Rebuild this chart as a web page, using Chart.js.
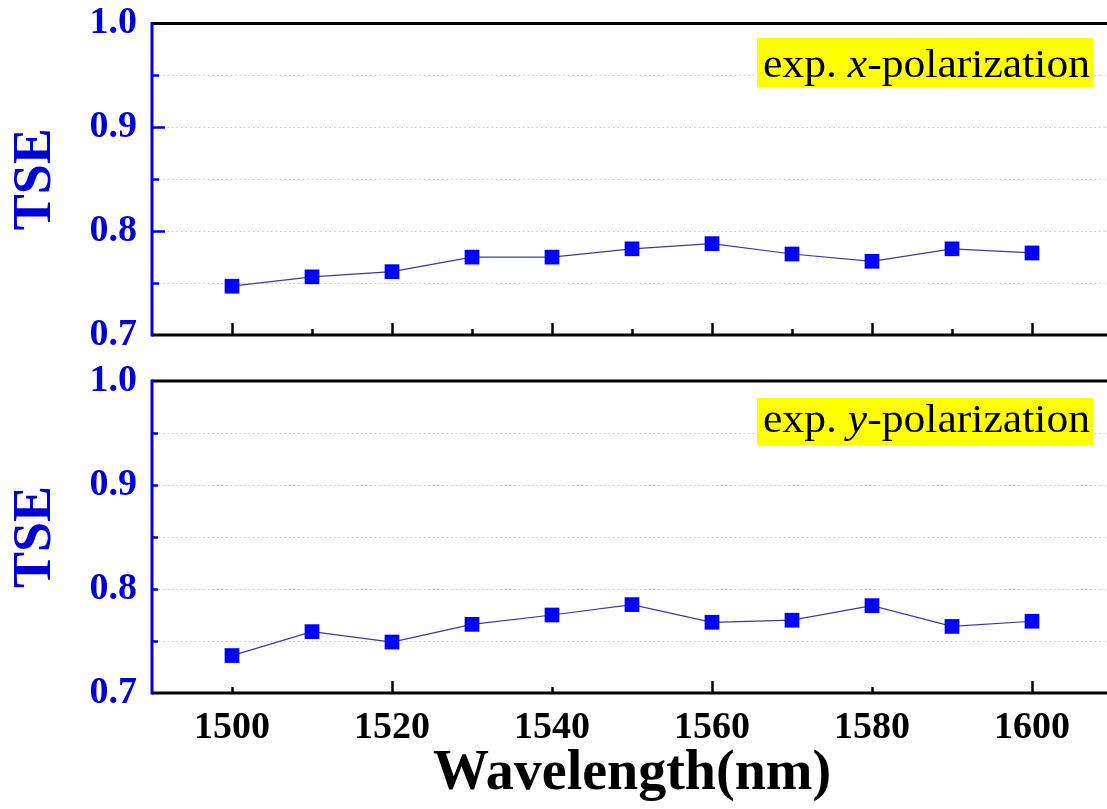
<!DOCTYPE html>
<html>
<head>
<meta charset="utf-8">
<script src="https://cdn.jsdelivr.net/npm/chart.js@4/dist/chart.umd.min.js"></script>
<style>
  html, body { margin: 0; padding: 0; background: #ffffff; }
  body { width: 1107px; height: 809px; overflow: hidden; position: relative; }
  canvas { position: absolute; left: 0; }
  #c1 { top: -20px; }
  #c2 { top: 340px; }
</style>
</head>
<body>
<canvas id="c1" width="1112" height="400"></canvas>
<canvas id="c2" width="1112" height="469"></canvas>
<script>
// ---- data ----
const wavelengths = [1500, 1510, 1520, 1530, 1540, 1550, 1560, 1570, 1580, 1590, 1600];
const tseXpol = [0.747, 0.756, 0.761, 0.775, 0.775, 0.783, 0.788, 0.778, 0.771, 0.783, 0.779];
const tseYpol = [0.736, 0.759, 0.749, 0.766, 0.775, 0.785, 0.768, 0.770, 0.784, 0.764, 0.769];

const yTicks = [0.7, 0.8, 0.9, 1.0];
const yMinorTicks = [0.75, 0.85, 0.95];
const gridValues = [0.75, 0.8, 0.85, 0.9, 0.95];
const xLabelTicks = [1500, 1520, 1540, 1560, 1580, 1600];
const topXMajor = [1500, 1520, 1540, 1560, 1580, 1600];
const topXMinor = [1510, 1530, 1550, 1570, 1590];
const botXMajor = [1520, 1560, 1600];
const botXMinor = [1500, 1540, 1580];

const yTitle = 'TSE';
const xTitle = 'Wavelength(nm)';
const annoTop = ['exp. ', 'x', '-polarization'];
const annoBot = ['exp. ', 'y', '-polarization'];

const BLUE = '#0000d2';
const SERIF = "'Liberation Serif', 'Times New Roman', serif";

const deco = {
  id: 'deco',
  beforeDatasetsDraw(chart, args, o) {
    const {ctx, chartArea: a} = chart;
    const y = chart.scales.y;
    ctx.save();
    ctx.strokeStyle = '#c4c4c4';
    ctx.lineWidth = 1;
    ctx.setLineDash([1.5, 3]);
    gridValues.forEach(v => {
      const py = Math.round(y.getPixelForValue(v)) + 0.5;
      ctx.beginPath(); ctx.moveTo(a.left + 2, py); ctx.lineTo(a.right, py); ctx.stroke();
    });
    ctx.restore();
  },
  afterDraw(chart, args, o) {
    const {ctx, chartArea: a} = chart;
    const x = chart.scales.x, y = chart.scales.y;
    ctx.save();
    // annotation box
    const bx = 757, bw = 336;
    const by = a.top + o.boxOff, bh = o.boxH;
    ctx.fillStyle = '#ffff00';
    ctx.fillRect(bx, by, bw, bh);
    const base = a.top + o.baseOff;
    const fs = 39;
    const fonts = [`${fs}px ${SERIF}`, `italic ${fs}px ${SERIF}`, `${fs}px ${SERIF}`];
    let tw = 0;
    o.text.forEach((t, i) => { ctx.font = fonts[i]; tw += ctx.measureText(t).width; });
    const target = 327;
    const sx = target / tw;
    ctx.save();
    ctx.translate(763, base);
    ctx.scale(sx, 1);
    ctx.fillStyle = '#000000';
    ctx.textBaseline = 'alphabetic';
    ctx.textAlign = 'left';
    let cx = 0;
    o.text.forEach((t, i) => { ctx.font = fonts[i]; ctx.fillText(t, cx, 0); cx += ctx.measureText(t).width; });
    ctx.restore();

    // x ticks (inward)
    ctx.strokeStyle = '#000000';
    ctx.lineWidth = 2.5;
    const tick = (vals, len) => vals.forEach(v => {
      const px = Math.round(x.getPixelForValue(v)) + 0.5;
      ctx.beginPath(); ctx.moveTo(px, a.bottom); ctx.lineTo(px, a.bottom - len); ctx.stroke();
    });
    tick(o.xMajor, 12);
    tick(o.xMinor, 6);
    // top & bottom spines
    ctx.lineWidth = 3;
    ctx.beginPath(); ctx.moveTo(a.left, a.top); ctx.lineTo(a.right + 5, a.top); ctx.stroke();
    ctx.beginPath(); ctx.moveTo(a.left, a.bottom); ctx.lineTo(a.right + 5, a.bottom); ctx.stroke();
    // left spine & y ticks
    ctx.strokeStyle = BLUE;
    ctx.lineWidth = 3;
    ctx.beginPath(); ctx.moveTo(a.left, a.top - 1.5); ctx.lineTo(a.left, a.bottom + 1.5); ctx.stroke();
    ctx.lineWidth = 2.5;
    const ytick = (vals, len) => vals.forEach(v => {
      const py = Math.round(y.getPixelForValue(v)) + 0.5;
      ctx.beginPath(); ctx.moveTo(a.left, py); ctx.lineTo(a.left + len, py); ctx.stroke();
    });
    ytick(yTicks.slice(1, 3), o.yMajorLen);
    ytick(yMinorTicks, o.yMinorLen);
    ctx.restore();
  }
};

function makeChart(id, values, showX, deco_opts, pad) {
  return new Chart(document.getElementById(id), {
    type: 'line',
    data: {
      datasets: [{
        data: wavelengths.map((w, i) => ({x: w, y: values[i]})),
        borderColor: '#3b3b96',
        borderWidth: 1.2,
        backgroundColor: '#0000ff',
        pointStyle: 'rect',
        pointRadius: 10.4,
        pointBorderWidth: 0,
        pointBackgroundColor: '#0000ff',
        tension: 0,
        clip: false
      }]
    },
    options: {
      responsive: false,
      animation: false,
      devicePixelRatio: 1,
      layout: { padding: pad, autoPadding: false },
      plugins: {
        legend: { display: false },
        tooltip: { enabled: false },
        deco: deco_opts
      },
      scales: {
        x: {
          type: 'linear',
          min: 1490, max: 1610,
          display: showX,
          afterBuildTicks: s => { s.ticks = xLabelTicks.map(v => ({value: v})); },
          afterFit: s => { if (showX) s.height = 116; },
          grid: { display: false, drawTicks: false },
          border: { display: false },
          ticks: {
            padding: 12,
            color: '#000000',
            font: { family: SERIF, size: 38, weight: 'bold' },
            callback: v => String(v),
            maxRotation: 0, autoSkip: false
          },
          title: {
            display: showX,
            text: xTitle,
            color: '#000000',
            font: { family: SERIF, size: 56, weight: 'bold' },
            padding: { top: 0, bottom: 1 }
          }
        },
        y: {
          type: 'linear',
          min: 0.7, max: 1.0,
          afterBuildTicks: s => { s.ticks = yTicks.map(v => ({value: v})); },
          afterFit: s => { s.width = 152; },
          grid: { display: false, drawTicks: false },
          border: { display: false },
          ticks: {
            padding: 15,
            color: BLUE,
            font: { family: SERIF, size: 38, weight: 'bold' },
            callback: v => v.toFixed(1)
          },
          title: {
            display: true,
            text: yTitle,
            color: BLUE,
            font: { family: SERIF, size: 54, weight: 'bold' },
            padding: { top: 4, bottom: 0 }
          }
        }
      }
    },
    plugins: [deco]
  });
}

makeChart('c1', tseXpol, false,
  { text: annoTop, boxOff: 14.5, boxH: 49, baseOff: 53.5, xMajor: topXMajor, xMinor: topXMinor, yMajorLen: 13, yMinorLen: 7 },
  { top: 43.5, bottom: 45, left: 0, right: 0 });
makeChart('c2', tseYpol, true,
  { text: annoBot, boxOff: 17, boxH: 47, baseOff: 51, xMajor: botXMajor, xMinor: botXMinor, yMajorLen: 6, yMinorLen: 6 },
  { top: 41, bottom: 0, left: 0, right: 0 });
</script>
</body>
</html>
